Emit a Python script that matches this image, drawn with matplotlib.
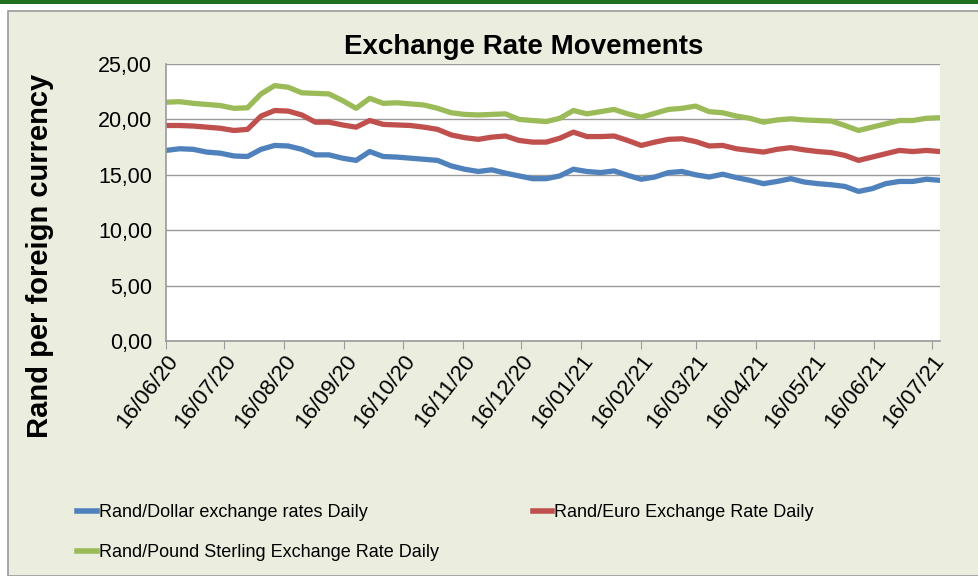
import matplotlib
matplotlib.use("Agg")
import matplotlib.pyplot as plt
from matplotlib.patches import Rectangle
import pandas as pd
import warnings
warnings.filterwarnings("ignore")

# ---------------- data (weekly readings from the chart) ----------------
start_date = "2020-06-16"
n_weeks = 58
dates = pd.date_range(start_date, periods=n_weeks, freq="7D")

usd = [17.20, 17.35, 17.30, 17.05, 16.95, 16.70, 16.65, 17.30, 17.65, 17.60,
       17.30, 16.80, 16.80, 16.50, 16.30, 17.10, 16.65, 16.60, 16.50, 16.40,
       16.30, 15.80, 15.50, 15.30, 15.45, 15.15, 14.90, 14.65, 14.65, 14.90,
       15.50, 15.30, 15.20, 15.35, 14.95, 14.60, 14.80, 15.20, 15.30, 15.00,
       14.80, 15.05, 14.75, 14.50, 14.20, 14.40, 14.65, 14.35, 14.20, 14.10,
       13.95, 13.50, 13.75, 14.20, 14.40, 14.40, 14.60, 14.50]
eur = [19.45, 19.45, 19.40, 19.30, 19.20, 19.00, 19.10, 20.30, 20.80, 20.75,
       20.40, 19.75, 19.75, 19.50, 19.30, 19.90, 19.55, 19.50, 19.45, 19.30,
       19.10, 18.60, 18.35, 18.20, 18.40, 18.50, 18.10, 17.95, 17.95, 18.30,
       18.85, 18.45, 18.45, 18.50, 18.10, 17.65, 17.95, 18.20, 18.25, 18.00,
       17.60, 17.65, 17.35, 17.20, 17.05, 17.30, 17.45, 17.25, 17.10, 17.00,
       16.75, 16.30, 16.60, 16.90, 17.20, 17.10, 17.20, 17.10]
gbp = [21.55, 21.60, 21.45, 21.35, 21.25, 21.00, 21.05, 22.30, 23.05, 22.90,
       22.40, 22.35, 22.30, 21.70, 21.00, 21.90, 21.45, 21.50, 21.40, 21.30,
       21.00, 20.60, 20.45, 20.40, 20.45, 20.50, 20.00, 19.90, 19.80, 20.10,
       20.80, 20.50, 20.70, 20.90, 20.50, 20.20, 20.55, 20.90, 21.00, 21.20,
       20.70, 20.60, 20.30, 20.10, 19.75, 19.95, 20.05, 19.95, 19.90, 19.85,
       19.45, 19.00, 19.30, 19.60, 19.90, 19.90, 20.10, 20.15]

series_labels = ["Rand/Dollar exchange rates Daily",
                 "Rand/Euro Exchange Rate Daily",
                 "Rand/Pound Sterling Exchange Rate Daily"]
series_colors = ["#4F81BD", "#C0504D", "#9BBB59"]

tick_dates = pd.date_range("2020-06-01", "2021-07-01", freq="MS") + pd.Timedelta(days=15)
y_ticks = [0, 5, 10, 15, 20, 25]
y_tick_labels = ["0,00", "5,00", "10,00", "15,00", "20,00", "25,00"]

title = "Exchange Rate Movements"
y_label = "Rand per foreign currency"

# ---------------- figure ----------------
W, H = 979, 576
BG = "#EBEEDF"
font = ["Liberation Sans", "DejaVu Sans"]

fig = plt.figure(figsize=(W / 100, H / 100), dpi=100)
fig.patch.set_facecolor("white")

# frame decorations
fig.add_artist(Rectangle((0, 1 - 4 / H), 1, 4 / H, transform=fig.transFigure,
                         facecolor="#1F6F1F", edgecolor="none", zorder=0))
fig.add_artist(Rectangle((8 / W, 0), 1 - 8 / W, 1 - 11 / H, transform=fig.transFigure,
                         facecolor=BG, edgecolor="#9A9A9A", linewidth=1.2, zorder=0))

ax = fig.add_axes([166 / W, 1 - 341 / H, (940 - 166) / W, (341 - 64) / H])
ax.set_facecolor("white")

for vals, lab, col in zip([usd, eur, gbp], series_labels, series_colors):
    ax.plot(dates, vals, color=col, lw=3.8, label=lab, solid_joinstyle="round")

ax.set_ylim(0, 25)
ax.set_xlim(pd.Timestamp("2020-06-16"), dates[-1])
ax.set_yticks(y_ticks)
ax.set_yticklabels(y_tick_labels, family=font, fontsize=15.5)
ax.yaxis.grid(True, color="#9A9A9A", lw=1.0)
ax.set_axisbelow(True)
ax.tick_params(axis="y", length=0, pad=10)

ax.set_xticks(tick_dates)
ax.set_xticklabels([d.strftime("%d/%m/%y") for d in tick_dates],
                   rotation=52, ha="right", va="top", rotation_mode="anchor",
                   family=font, fontsize=16)
ax.tick_params(axis="x", direction="out", length=6, color="#9A9A9A", pad=1)

for s in ["top", "right"]:
    ax.spines[s].set_visible(False)
for s in ["left", "bottom"]:
    ax.spines[s].set_color("#9A9A9A")
    ax.spines[s].set_linewidth(1.2)

fig.text((348 + 700) / 2 / W, 1 - 47 / H, title, ha="center", va="center",
         family=font, fontweight="bold", fontsize=20)
fig.text(40 / W, 1 - 256 / H, y_label, rotation=90, ha="center", va="center",
         family=font, fontweight="bold", fontsize=21)

handles, labels = ax.get_legend_handles_labels()
order = [0, 2, 1]
leg = fig.legend([handles[i] for i in order], [labels[i] for i in order],
                 loc="upper left", bbox_to_anchor=(77 / W, 1 - 504 / H),
                 ncol=2, frameon=False, prop={"family": font, "size": 13},
                 handlelength=1.1, handletextpad=0.1, labelspacing=1.3,
                 columnspacing=5.2, borderaxespad=0, borderpad=0)
for h in leg.get_lines():
    h.set_linewidth(4)

fig.savefig("out.png", dpi=100, facecolor=fig.get_facecolor())
